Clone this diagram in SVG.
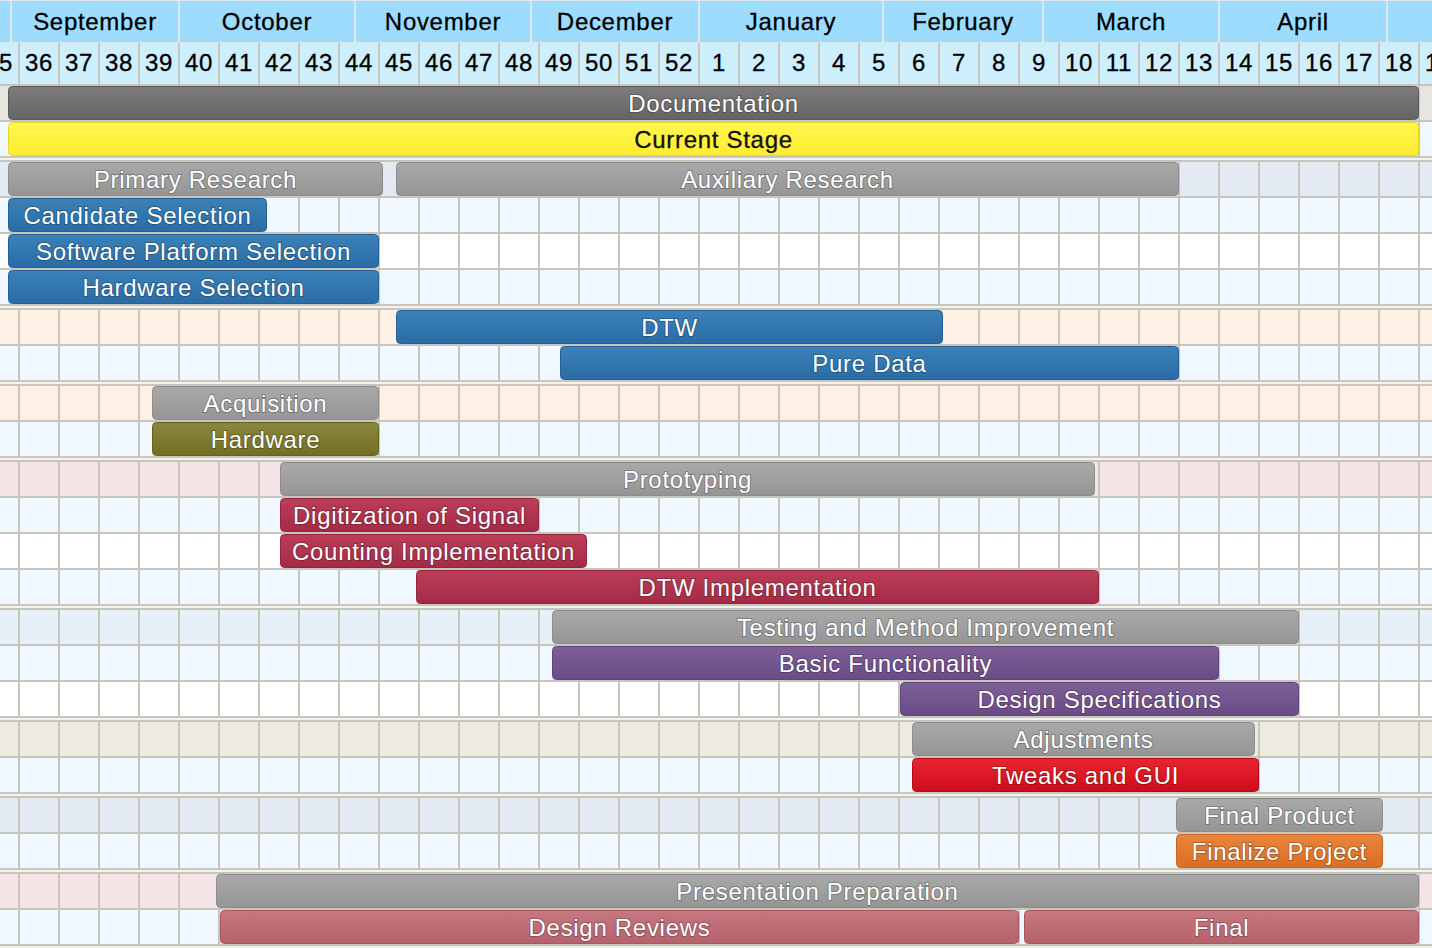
<svg xmlns="http://www.w3.org/2000/svg" width="1432" height="948" viewBox="0 0 1432 948">
<style>
.t{font-family:"Liberation Sans",Arial,Helvetica,sans-serif;font-size:24px;letter-spacing:0.7px;text-anchor:middle}
.w{fill:#ffffff;stroke:#000;stroke-opacity:0.24;stroke-width:2px;paint-order:stroke}
.k{fill:#111111;stroke:#111111;stroke-width:0.3px}
.hd{fill:#000000;stroke:#000000;stroke-width:0.3px}
.bar{stroke-width:1}
.dark{fill:url(#gDark);stroke:#5a5a5a}
.yel{fill:url(#gYel);stroke:#e6d822}
.gray{fill:url(#gGray);stroke:#8d8d8d}
.blue{fill:url(#gBlue);stroke:#245f95}
.olive{fill:url(#gOlive);stroke:#66621c}
.crim{fill:url(#gCrim);stroke:#952341}
.purp{fill:url(#gPurp);stroke:#5f437b}
.red{fill:url(#gRed);stroke:#b80818}
.orng{fill:url(#gOrng);stroke:#cc6420}
.rose{fill:url(#gRose);stroke:#a8555f}
.gl{fill:#c8c5bc}
.gap{fill:#f3f3f0}
</style>
<defs>
<linearGradient id="gDark" x1="0" y1="0" x2="0" y2="1"><stop offset="0" stop-color="#7c7c7c"/><stop offset="1" stop-color="#646464"/></linearGradient>
<linearGradient id="gYel" x1="0" y1="0" x2="0" y2="1"><stop offset="0" stop-color="#fff650"/><stop offset="1" stop-color="#ffec30"/></linearGradient>
<linearGradient id="gGray" x1="0" y1="0" x2="0" y2="1"><stop offset="0" stop-color="#a9a9a9"/><stop offset="1" stop-color="#959595"/></linearGradient>
<linearGradient id="gBlue" x1="0" y1="0" x2="0" y2="1"><stop offset="0" stop-color="#3b82b8"/><stop offset="1" stop-color="#2a6ca6"/></linearGradient>
<linearGradient id="gOlive" x1="0" y1="0" x2="0" y2="1"><stop offset="0" stop-color="#8a873f"/><stop offset="1" stop-color="#736f22"/></linearGradient>
<linearGradient id="gCrim" x1="0" y1="0" x2="0" y2="1"><stop offset="0" stop-color="#bc3e57"/><stop offset="1" stop-color="#a52a47"/></linearGradient>
<linearGradient id="gPurp" x1="0" y1="0" x2="0" y2="1"><stop offset="0" stop-color="#7e6098"/><stop offset="1" stop-color="#6a4b87"/></linearGradient>
<linearGradient id="gRed" x1="0" y1="0" x2="0" y2="1"><stop offset="0" stop-color="#ea2530"/><stop offset="1" stop-color="#cc0c1c"/></linearGradient>
<linearGradient id="gOrng" x1="0" y1="0" x2="0" y2="1"><stop offset="0" stop-color="#e8853c"/><stop offset="1" stop-color="#da6e25"/></linearGradient>
<linearGradient id="gRose" x1="0" y1="0" x2="0" y2="1"><stop offset="0" stop-color="#c67880"/><stop offset="1" stop-color="#b6616b"/></linearGradient>
</defs>

<g id="background">
<rect x="0" y="0" width="1432" height="948" fill="#eef0e8"/>
<rect x="0" y="86" width="1432" height="34" fill="#e7e5e0"/>
<rect x="0" y="122" width="1432" height="34" fill="#f0f8ff"/>
<rect x="0" y="162" width="1432" height="34" fill="#e4eaf1"/>
<rect x="0" y="198" width="1432" height="34" fill="#f0f8ff"/>
<rect x="0" y="234" width="1432" height="34" fill="#ffffff"/>
<rect x="0" y="270" width="1432" height="34" fill="#f0f8ff"/>
<rect x="0" y="310" width="1432" height="34" fill="#fff0e5"/>
<rect x="0" y="346" width="1432" height="34" fill="#f0f8ff"/>
<rect x="0" y="386" width="1432" height="34" fill="#fff0e5"/>
<rect x="0" y="422" width="1432" height="34" fill="#f0f8ff"/>
<rect x="0" y="462" width="1432" height="34" fill="#f5e4e6"/>
<rect x="0" y="498" width="1432" height="34" fill="#f0f8ff"/>
<rect x="0" y="534" width="1432" height="34" fill="#ffffff"/>
<rect x="0" y="570" width="1432" height="34" fill="#f0f8ff"/>
<rect x="0" y="610" width="1432" height="34" fill="#e6f0f8"/>
<rect x="0" y="646" width="1432" height="34" fill="#f0f8ff"/>
<rect x="0" y="682" width="1432" height="34" fill="#ffffff"/>
<rect x="0" y="722" width="1432" height="34" fill="#eeebe0"/>
<rect x="0" y="758" width="1432" height="34" fill="#f0f8ff"/>
<rect x="0" y="798" width="1432" height="34" fill="#e4eaf1"/>
<rect x="0" y="834" width="1432" height="34" fill="#f0f8ff"/>
<rect x="0" y="874" width="1432" height="34" fill="#f5e4e6"/>
<rect x="0" y="910" width="1432" height="34" fill="#f0f8ff"/>
<path d="M19 84V946M59 84V946M99 84V946M139 84V946M179 84V946M219 84V946M259 84V946M299 84V946M339 84V946M379 84V946M419 84V946M459 84V946M499 84V946M539 84V946M579 84V946M619 84V946M659 84V946M699 84V946M739 84V946M779 84V946M819 84V946M859 84V946M899 84V946M939 84V946M979 84V946M1019 84V946M1059 84V946M1099 84V946M1139 84V946M1179 84V946M1219 84V946M1259 84V946M1299 84V946M1339 84V946M1379 84V946M1419 84V946" stroke="#c8c5bc" stroke-width="2" fill="none"/>
<rect class="gl" x="0" y="84" width="1432" height="2"/>
<rect class="gl" x="0" y="120" width="1432" height="2"/>
<rect class="gl" x="0" y="156" width="1432" height="2"/>
<rect class="gap" x="0" y="158" width="1432" height="2"/>
<rect class="gl" x="0" y="160" width="1432" height="2"/>
<rect class="gl" x="0" y="196" width="1432" height="2"/>
<rect class="gl" x="0" y="232" width="1432" height="2"/>
<rect class="gl" x="0" y="268" width="1432" height="2"/>
<rect class="gl" x="0" y="304" width="1432" height="2"/>
<rect class="gap" x="0" y="306" width="1432" height="2"/>
<rect class="gl" x="0" y="308" width="1432" height="2"/>
<rect class="gl" x="0" y="344" width="1432" height="2"/>
<rect class="gl" x="0" y="380" width="1432" height="2"/>
<rect class="gap" x="0" y="382" width="1432" height="2"/>
<rect class="gl" x="0" y="384" width="1432" height="2"/>
<rect class="gl" x="0" y="420" width="1432" height="2"/>
<rect class="gl" x="0" y="456" width="1432" height="2"/>
<rect class="gap" x="0" y="458" width="1432" height="2"/>
<rect class="gl" x="0" y="460" width="1432" height="2"/>
<rect class="gl" x="0" y="496" width="1432" height="2"/>
<rect class="gl" x="0" y="532" width="1432" height="2"/>
<rect class="gl" x="0" y="568" width="1432" height="2"/>
<rect class="gl" x="0" y="604" width="1432" height="2"/>
<rect class="gap" x="0" y="606" width="1432" height="2"/>
<rect class="gl" x="0" y="608" width="1432" height="2"/>
<rect class="gl" x="0" y="644" width="1432" height="2"/>
<rect class="gl" x="0" y="680" width="1432" height="2"/>
<rect class="gl" x="0" y="716" width="1432" height="2"/>
<rect class="gap" x="0" y="718" width="1432" height="2"/>
<rect class="gl" x="0" y="720" width="1432" height="2"/>
<rect class="gl" x="0" y="756" width="1432" height="2"/>
<rect class="gl" x="0" y="792" width="1432" height="2"/>
<rect class="gap" x="0" y="794" width="1432" height="2"/>
<rect class="gl" x="0" y="796" width="1432" height="2"/>
<rect class="gl" x="0" y="832" width="1432" height="2"/>
<rect class="gl" x="0" y="868" width="1432" height="2"/>
<rect class="gap" x="0" y="870" width="1432" height="2"/>
<rect class="gl" x="0" y="872" width="1432" height="2"/>
<rect class="gl" x="0" y="908" width="1432" height="2"/>
<rect class="gl" x="0" y="944" width="1432" height="2"/>
</g>

<g id="header">
<rect x="0" y="0" width="1432" height="42" fill="#9ddcfc"/>
<rect x="0" y="0" width="1432" height="1" fill="#dfe8ea"/>
<rect x="0" y="42" width="1432" height="1" fill="#dfe8ea"/>
<rect x="0" y="43" width="1432" height="41" fill="#cdeefd"/>
<path d="M11 0V42M179 0V42M355 0V42M531 0V42M699 0V42M883 0V42M1043 0V42M1219 0V42M1387 0V42" stroke="#dde8ea" stroke-width="2" fill="none"/>
<path d="M19 43V84M59 43V84M99 43V84M139 43V84M179 43V84M219 43V84M259 43V84M299 43V84M339 43V84M379 43V84M419 43V84M459 43V84M499 43V84M539 43V84M579 43V84M619 43V84M659 43V84M699 43V84M739 43V84M779 43V84M819 43V84M859 43V84M899 43V84M939 43V84M979 43V84M1019 43V84M1059 43V84M1099 43V84M1139 43V84M1179 43V84M1219 43V84M1259 43V84M1299 43V84M1339 43V84M1379 43V84M1419 43V84" stroke="#c8c5bc" stroke-width="2" fill="none"/>
<g class="t hd">
<text x="95" y="30">September</text>
<text x="267" y="30">October</text>
<text x="443" y="30">November</text>
<text x="615" y="30">December</text>
<text x="791" y="30">January</text>
<text x="963" y="30">February</text>
<text x="1131" y="30">March</text>
<text x="1303" y="30">April</text>
</g>
<g class="t hd">
<text x="-1" y="71">35</text>
<text x="39" y="71">36</text>
<text x="79" y="71">37</text>
<text x="119" y="71">38</text>
<text x="159" y="71">39</text>
<text x="199" y="71">40</text>
<text x="239" y="71">41</text>
<text x="279" y="71">42</text>
<text x="319" y="71">43</text>
<text x="359" y="71">44</text>
<text x="399" y="71">45</text>
<text x="439" y="71">46</text>
<text x="479" y="71">47</text>
<text x="519" y="71">48</text>
<text x="559" y="71">49</text>
<text x="599" y="71">50</text>
<text x="639" y="71">51</text>
<text x="679" y="71">52</text>
<text x="719" y="71">1</text>
<text x="759" y="71">2</text>
<text x="799" y="71">3</text>
<text x="839" y="71">4</text>
<text x="879" y="71">5</text>
<text x="919" y="71">6</text>
<text x="959" y="71">7</text>
<text x="999" y="71">8</text>
<text x="1039" y="71">9</text>
<text x="1079" y="71">10</text>
<text x="1119" y="71">11</text>
<text x="1159" y="71">12</text>
<text x="1199" y="71">13</text>
<text x="1239" y="71">14</text>
<text x="1279" y="71">15</text>
<text x="1319" y="71">16</text>
<text x="1359" y="71">17</text>
<text x="1399" y="71">18</text>
<text x="1439" y="71">19</text>
</g>
</g>

<g id="connectors"></g>

<g id="documentation"><rect class="bar dark" x="8.5" y="86.5" width="1410" height="33" rx="4"/><text class="t w" x="713.5" y="111.5">Documentation</text></g>
<g id="current-stage"><rect class="bar yel" x="8.5" y="122.5" width="1410" height="33" rx="4"/><text class="t k" x="713.5" y="147.5">Current Stage</text></g>

<g id="primary-research"><rect class="bar gray" x="8.5" y="162.5" width="374" height="33" rx="4"/><text class="t w" x="195.5" y="187.5">Primary Research</text></g>
<g id="auxiliary-research"><rect class="bar gray" x="396.5" y="162.5" width="782" height="33" rx="4"/><text class="t w" x="787.5" y="187.5">Auxiliary Research</text></g>
<g id="candidate-selection"><rect class="bar blue" x="8.5" y="198.5" width="258" height="33" rx="4"/><text class="t w" x="137.5" y="223.5">Candidate Selection</text></g>
<g id="software-platform-selection"><rect class="bar blue" x="8.5" y="234.5" width="370" height="33" rx="4"/><text class="t w" x="193.5" y="259.5">Software Platform Selection</text></g>
<g id="hardware-selection"><rect class="bar blue" x="8.5" y="270.5" width="370" height="33" rx="4"/><text class="t w" x="193.5" y="295.5">Hardware Selection</text></g>

<g id="dtw"><rect class="bar blue" x="396.5" y="310.5" width="546" height="33" rx="4"/><text class="t w" x="669.5" y="335.5">DTW</text></g>
<g id="pure-data"><rect class="bar blue" x="560.5" y="346.5" width="618" height="33" rx="4"/><text class="t w" x="869.5" y="371.5">Pure Data</text></g>

<g id="acquisition"><rect class="bar gray" x="152.5" y="386.5" width="226" height="33" rx="4"/><text class="t w" x="265.5" y="411.5">Acquisition</text></g>
<g id="hardware"><rect class="bar olive" x="152.5" y="422.5" width="226" height="33" rx="4"/><text class="t w" x="265.5" y="447.5">Hardware</text></g>

<g id="prototyping"><rect class="bar gray" x="280.5" y="462.5" width="814" height="33" rx="4"/><text class="t w" x="687.5" y="487.5">Prototyping</text></g>
<g id="digitization-of-signal"><rect class="bar crim" x="280.5" y="498.5" width="258" height="33" rx="4"/><text class="t w" x="409.5" y="523.5">Digitization of Signal</text></g>
<g id="counting-implementation"><rect class="bar crim" x="280.5" y="534.5" width="306" height="33" rx="4"/><text class="t w" x="433.5" y="559.5">Counting Implementation</text></g>
<g id="dtw-implementation"><rect class="bar crim" x="416.5" y="570.5" width="682" height="33" rx="4"/><text class="t w" x="757.5" y="595.5">DTW Implementation</text></g>

<g id="testing-and-method-improvement"><rect class="bar gray" x="552.5" y="610.5" width="746" height="33" rx="4"/><text class="t w" x="925.5" y="635.5">Testing and Method Improvement</text></g>
<g id="basic-functionality"><rect class="bar purp" x="552.5" y="646.5" width="666" height="33" rx="4"/><text class="t w" x="885.5" y="671.5">Basic Functionality</text></g>
<g id="design-specifications"><rect class="bar purp" x="900.5" y="682.5" width="398" height="33" rx="4"/><text class="t w" x="1099.5" y="707.5">Design Specifications</text></g>

<g id="adjustments"><rect class="bar gray" x="912.5" y="722.5" width="342" height="33" rx="4"/><text class="t w" x="1083.5" y="747.5">Adjustments</text></g>
<g id="tweaks-and-gui"><rect class="bar red" x="912.5" y="758.5" width="346" height="33" rx="4"/><text class="t w" x="1085.5" y="783.5">Tweaks and GUI</text></g>

<g id="final-product"><rect class="bar gray" x="1176.5" y="798.5" width="206" height="33" rx="4"/><text class="t w" x="1279.5" y="823.5">Final Product</text></g>
<g id="finalize-project"><rect class="bar orng" x="1176.5" y="834.5" width="206" height="33" rx="4"/><text class="t w" x="1279.5" y="859.5">Finalize Project</text></g>

<g id="presentation-preparation"><rect class="bar gray" x="216.5" y="874.5" width="1202" height="33" rx="4"/><text class="t w" x="817.5" y="899.5">Presentation Preparation</text></g>
<g id="design-reviews"><rect class="bar rose" x="220.5" y="910.5" width="798" height="33" rx="4"/><text class="t w" x="619.5" y="935.5">Design Reviews</text></g>
<g id="final"><rect class="bar rose" x="1024.5" y="910.5" width="394" height="33" rx="4"/><text class="t w" x="1221.5" y="935.5">Final</text></g>
</svg>
